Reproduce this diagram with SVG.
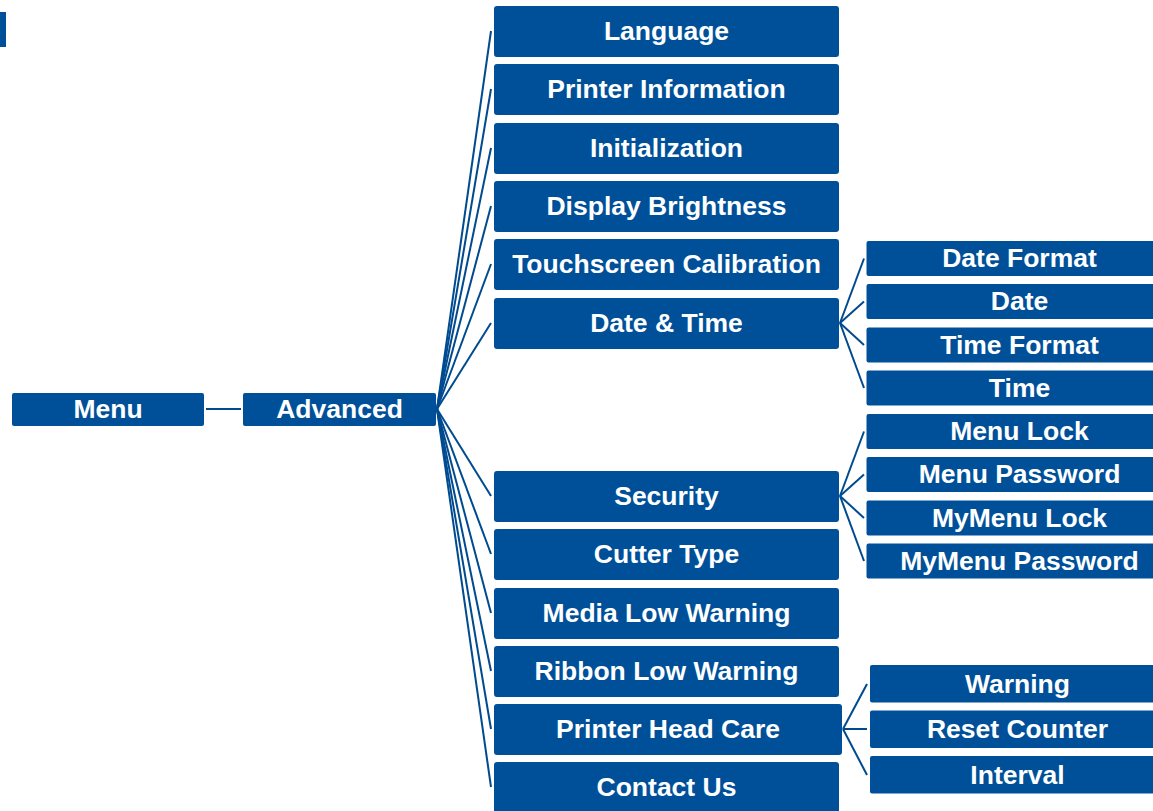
<svg xmlns="http://www.w3.org/2000/svg" width="1153" height="811" viewBox="0 0 1153 811">
<style>
.b{fill:#005099}
.t{fill:#fff;font-family:"Liberation Sans",Arial,sans-serif;font-weight:bold;font-size:26.5px;text-anchor:middle}
.c line{stroke:#004a8f;stroke-width:2}
</style>
<rect width="1153" height="811" fill="#fff"/>
<rect x="0" y="12" width="6" height="35" class="b"/>
<g class="c" id="connectors">
<line x1="206" y1="409" x2="241" y2="409"/>
<line x1="437" y1="409" x2="491" y2="31"/>
<line x1="437" y1="409" x2="491" y2="89"/>
<line x1="437" y1="409" x2="491" y2="148"/>
<line x1="437" y1="409" x2="491" y2="206"/>
<line x1="437" y1="409" x2="491" y2="264"/>
<line x1="437" y1="409" x2="491" y2="323"/>
<line x1="437" y1="409" x2="491" y2="496"/>
<line x1="437" y1="409" x2="491" y2="554"/>
<line x1="437" y1="409" x2="491" y2="613"/>
<line x1="437" y1="409" x2="491" y2="671"/>
<line x1="437" y1="409" x2="491" y2="729"/>
<line x1="437" y1="409" x2="491" y2="787"/>
<line x1="840" y1="323" x2="864" y2="258.5"/>
<line x1="840" y1="323" x2="864" y2="301.5"/>
<line x1="840" y1="323" x2="864" y2="345"/>
<line x1="840" y1="323" x2="864" y2="388"/>
<line x1="840" y1="496" x2="864" y2="431.5"/>
<line x1="840" y1="496" x2="864" y2="474.5"/>
<line x1="840" y1="496" x2="864" y2="518"/>
<line x1="840" y1="496" x2="864" y2="561"/>
<line x1="843" y1="729" x2="867" y2="684"/>
<line x1="843" y1="729" x2="867" y2="729"/>
<line x1="843" y1="729" x2="867" y2="775"/>
</g>
<g id="menu"><rect x="12" y="393" width="192" height="33" rx="2" class="b"/><text x="108" y="418" class="t">Menu</text></g>
<g id="advanced"><rect x="243" y="393" width="193" height="33" rx="2" class="b"/><text x="339.5" y="418" class="t">Advanced</text></g>
<g id="language"><rect x="494" y="6" width="345" height="51" rx="3" class="b"/><text x="666.5" y="40" class="t">Language</text></g>
<g id="printer-information"><rect x="494" y="64" width="345" height="51" rx="3" class="b"/><text x="666.5" y="98" class="t">Printer Information</text></g>
<g id="initialization"><rect x="494" y="123" width="345" height="51" rx="3" class="b"/><text x="666.5" y="157" class="t">Initialization</text></g>
<g id="display-brightness"><rect x="494" y="181" width="345" height="51" rx="3" class="b"/><text x="666.5" y="215" class="t">Display Brightness</text></g>
<g id="touchscreen-calibration"><rect x="494" y="239" width="345" height="51" rx="3" class="b"/><text x="666.5" y="273" class="t">Touchscreen Calibration</text></g>
<g id="date-time"><rect x="494" y="298" width="345" height="51" rx="3" class="b"/><text x="666.5" y="332" class="t">Date &amp; Time</text></g>
<g id="security"><rect x="494" y="471" width="345" height="51" rx="3" class="b"/><text x="666.5" y="505" class="t">Security</text></g>
<g id="cutter-type"><rect x="494" y="529" width="345" height="51" rx="3" class="b"/><text x="666.5" y="563" class="t">Cutter Type</text></g>
<g id="media-low-warning"><rect x="494" y="588" width="345" height="51" rx="3" class="b"/><text x="666.5" y="622" class="t">Media Low Warning</text></g>
<g id="ribbon-low-warning"><rect x="494" y="646" width="345" height="51" rx="3" class="b"/><text x="666.5" y="680" class="t">Ribbon Low Warning</text></g>
<g id="printer-head-care"><rect x="494" y="704" width="348" height="51" rx="3" class="b"/><text x="668" y="738" class="t">Printer Head Care</text></g>
<g id="contact-us"><rect x="494" y="762" width="345" height="51" rx="3" class="b"/><text x="666.5" y="796" class="t">Contact Us</text></g>
<g id="date-format"><rect x="866.5" y="241" width="310" height="35" rx="2" class="b"/><text x="1019.5" y="267" class="t">Date Format</text></g>
<g id="date"><rect x="866.5" y="284" width="310" height="35" rx="2" class="b"/><text x="1019.5" y="310" class="t">Date</text></g>
<g id="time-format"><rect x="866.5" y="327.5" width="310" height="35" rx="2" class="b"/><text x="1019.5" y="353.5" class="t">Time Format</text></g>
<g id="time"><rect x="866.5" y="370.5" width="310" height="35" rx="2" class="b"/><text x="1019.5" y="396.5" class="t">Time</text></g>
<g id="menu-lock"><rect x="866.5" y="414" width="310" height="35" rx="2" class="b"/><text x="1019.5" y="440" class="t">Menu Lock</text></g>
<g id="menu-password"><rect x="866.5" y="457" width="310" height="35" rx="2" class="b"/><text x="1019.5" y="483" class="t">Menu Password</text></g>
<g id="mymenu-lock"><rect x="866.5" y="500.5" width="310" height="35" rx="2" class="b"/><text x="1019.5" y="526.5" class="t">MyMenu Lock</text></g>
<g id="mymenu-password"><rect x="866.5" y="543.5" width="310" height="35" rx="2" class="b"/><text x="1019.5" y="569.5" class="t">MyMenu Password</text></g>
<g id="warning"><rect x="870" y="665" width="295" height="37.5" rx="2" class="b"/><text x="1017.5" y="692.5" class="t">Warning</text></g>
<g id="reset-counter"><rect x="870" y="710.5" width="295" height="37.5" rx="2" class="b"/><text x="1017.5" y="738" class="t">Reset Counter</text></g>
<g id="interval"><rect x="870" y="756" width="295" height="37.5" rx="2" class="b"/><text x="1017.5" y="783.5" class="t">Interval</text></g>
</svg>
